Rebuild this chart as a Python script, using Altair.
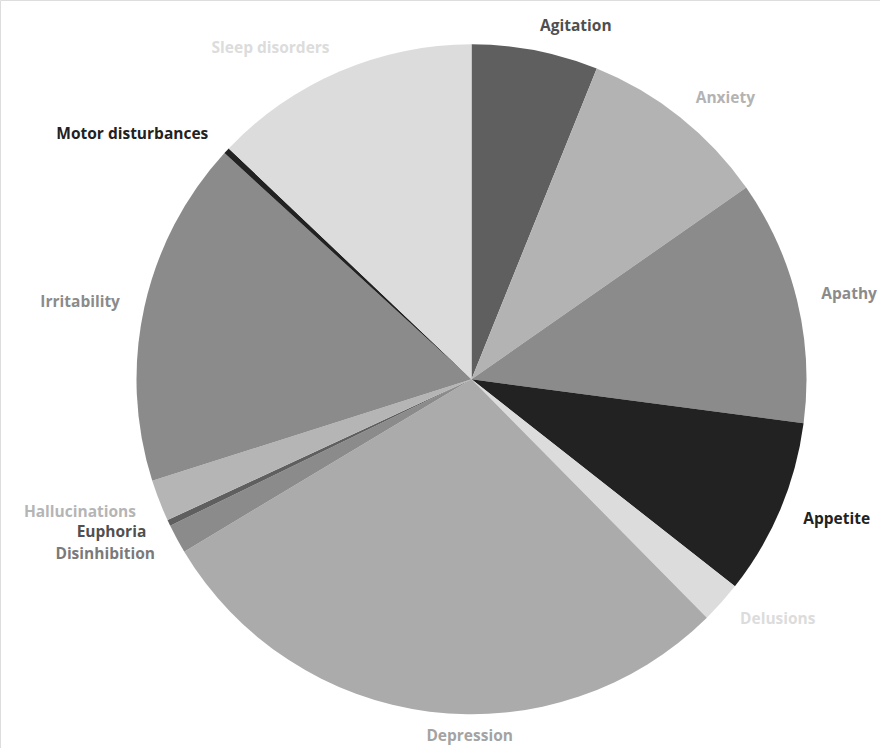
import altair as alt
import pandas as pd

categories = ["Agitation", "Anxiety", "Apathy", "Appetite", "Delusions", "Depression",
              "Disinhibition", "Euphoria", "Hallucinations", "Irritability",
              "Motor disturbances", "Sleep disorders"]
values = [6.1, 9.2, 11.8, 8.5, 2.0, 28.8, 1.4, 0.3, 2.0, 16.7, 0.3, 12.9]
slice_colors = ["#5f5f5f", "#b3b3b3", "#8b8b8b", "#222222", "#dcdcdc", "#ababab",
                "#8b8b8b", "#5f5f5f", "#b5b5b5", "#8b8b8b", "#222222", "#dcdcdc"]
label_colors = ["#4f4f4f", "#b3b3b3", "#8b8b8b", "#222222", "#dcdcdc", "#a3a3a3",
                "#7a7a7a", "#505050", "#b5b5b5", "#8b8b8b", "#222222", "#dcdcdc"]

total = sum(values)
df = pd.DataFrame({"category": categories, "value": values, "order": list(range(len(values)))})

CX, CY = 471.5, 379.3
R = 335
RL = 360

theta_scale = alt.Scale(domain=[0, total])
color_scale = alt.Scale(domain=categories, range=slice_colors)
label_scale = alt.Scale(domain=categories, range=label_colors)

base = alt.Chart(df)

pie = base.mark_arc(outerRadius=R, stroke=None).encode(
    theta=alt.Theta("value:Q", stack=True, scale=theta_scale),
    color=alt.Color("category:N", scale=color_scale, legend=None),
    order=alt.Order("order:Q"),
    x=alt.value(CX), y=alt.value(CY),
)

labels_base = base.transform_window(
    cum="sum(value)", sort=[alt.SortField("order")],
).transform_calculate(
    mid="datum.cum - datum.value / 2",
    deg=f"(datum.cum - datum.value / 2) / {total} * 360",
)

def label_layer(cond, align, dy=0):
    return labels_base.transform_filter(cond).mark_text(
        radius=RL, align=align, baseline="middle", dy=dy,
        font="Open Sans", fontSize=15.5, fontWeight="bold",
    ).encode(
        theta=alt.Theta("mid:Q", scale=theta_scale),
        text="category:N",
        color=alt.Color("category:N", scale=label_scale, legend=None),
        x=alt.value(CX), y=alt.value(CY),
    )

crowded = "(datum.category == 'Euphoria' || datum.category == 'Disinhibition' || datum.category == 'Hallucinations')"
left_labels = label_layer("datum.deg < 200", "left")
right_labels = label_layer(f"datum.deg >= 200 && !{crowded}", "right")
hall = label_layer("datum.category == 'Hallucinations'", "right", dy=2)
euph = label_layer("datum.category == 'Euphoria'", "right", dy=-1.5)
disin = label_layer("datum.category == 'Disinhibition'", "right", dy=3)

chart = alt.layer(pie, left_labels, right_labels, hall, euph, disin).resolve_scale(color="independent").properties(
    width=880, height=748, autosize=alt.AutoSizeParams(type="none"), padding=0,
).configure_view(stroke="transparent", strokeWidth=0).configure(background="white")

chart.save("out.html", embed_options={"renderer": "svg", "actions": False})
